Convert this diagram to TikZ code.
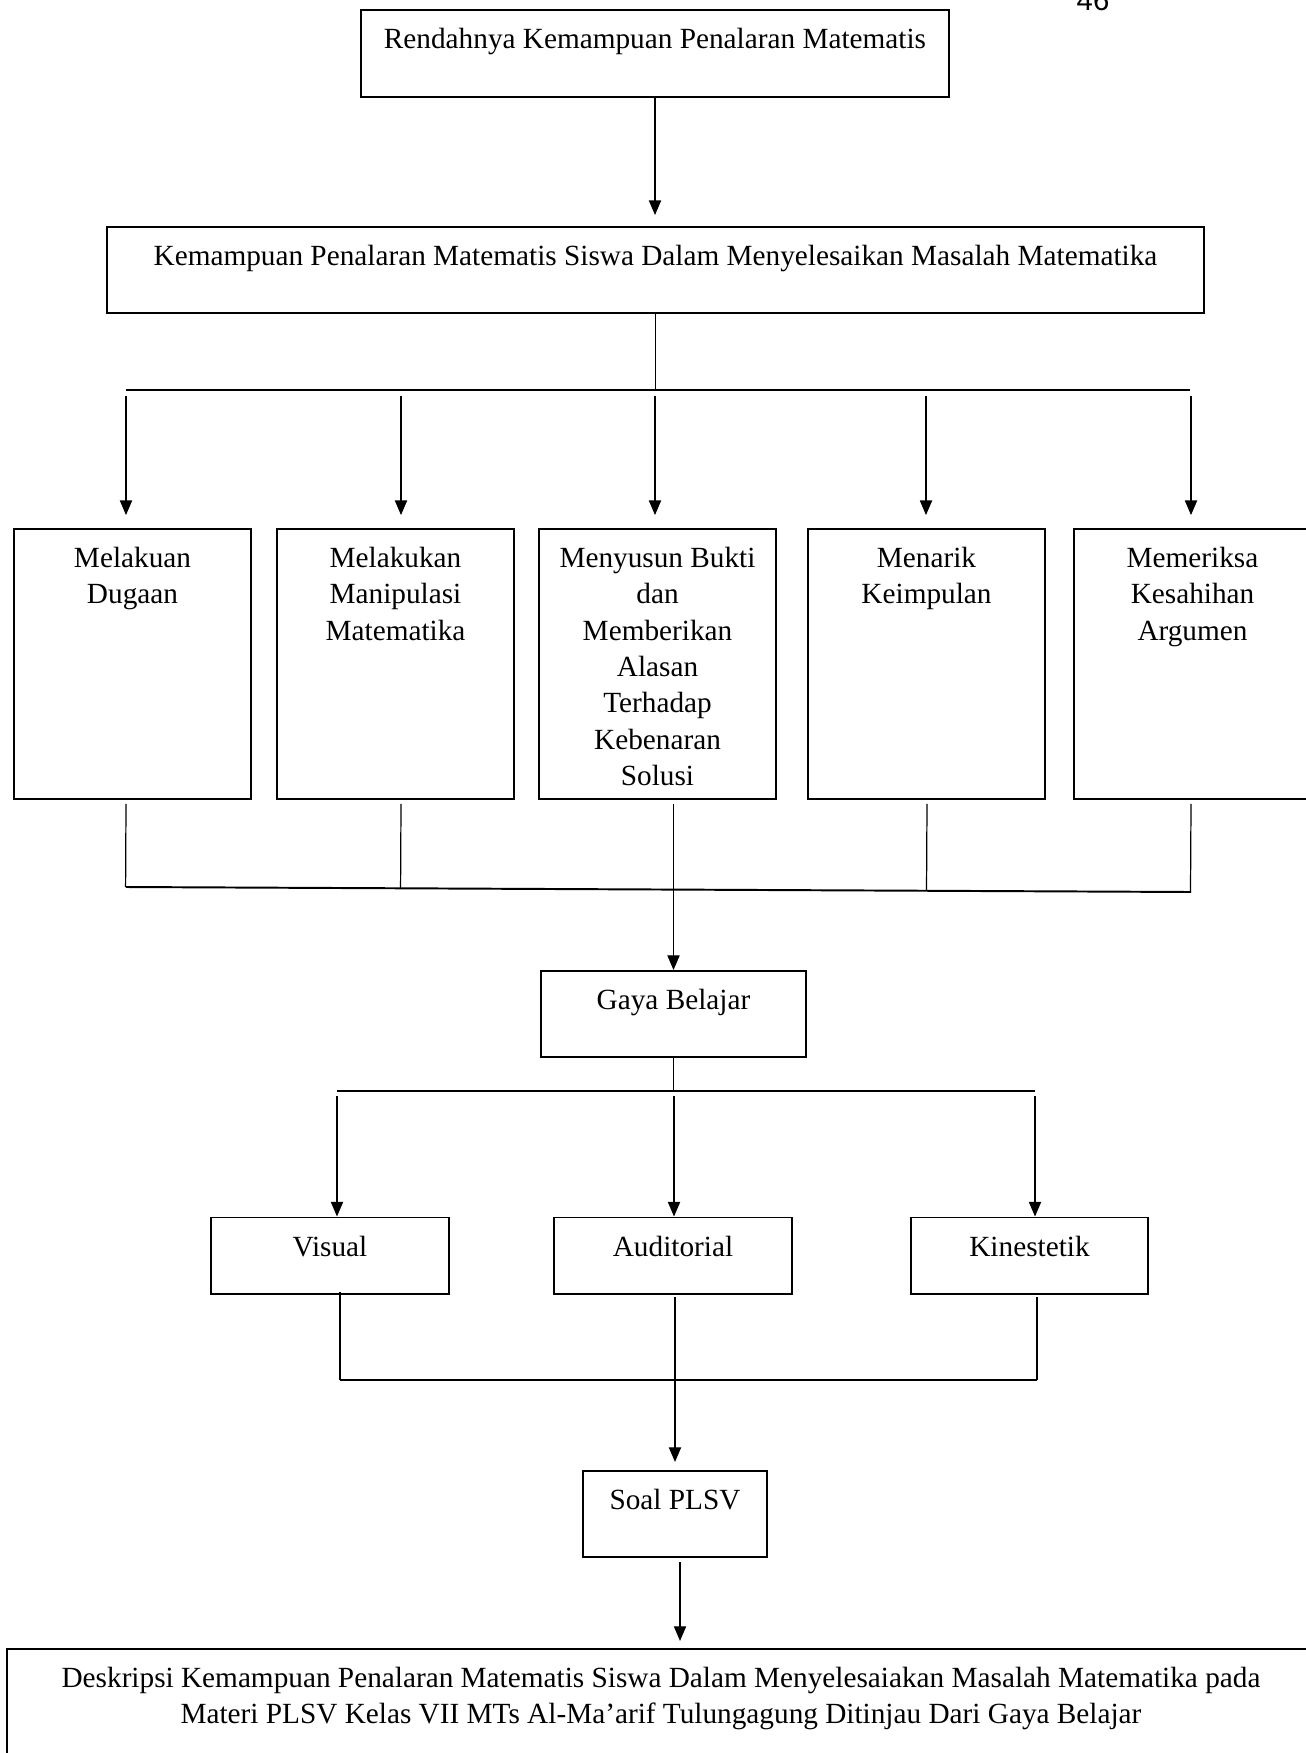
\documentclass[tikz,border=0pt]{standalone}
\usepackage{fontspec}
\setmainfont{Liberation Serif}
\newfontfamily\halfont{Liberation Sans}
\usetikzlibrary{arrows.meta,calc}
\tikzset{
  kotak/.style={draw, line width=0.8pt, anchor=north, align=flush center,
    inner xsep=0pt, inner ysep=4pt, text height=11.8pt,
    font=\fontsize{12}{14.9}\selectfont},
  garis/.style={line width=0.5pt},
  bus/.style={line width=0.8pt},
  panah/.style={garis, -{Triangle[length=6pt,width=5pt]}}
}
\begin{document}
\begin{tikzpicture}[x=0.41pt, y=-0.41pt]
      \useasboundingbox (0,0) rectangle (1305,1753);
      \node[anchor=base, font=\halfont\fontsize{12}{14}\selectfont] (hal) at (1093,11) {46};
      \draw
        (655,9) node[kotak, text width=241.1pt, text depth=15.9pt] (rendah){Rendahnya Kemampuan Penalaran Matematis}
        (655.5,226) node[kotak, text width=449.8pt, text depth=15.5pt] (masalah){Kemampuan Penalaran Matematis Siswa Dalam Menyelesaikan Masalah Matematika}
        (132.5,528) node[kotak, text width=97.2pt, text depth=90.9pt] (dugaan){Melakuan\\Dugaan}
        (395.5,528) node[kotak, text width=97.2pt, text depth=90.9pt] (manipulasi){Melakukan\\Manipulasi\\Matematika}
        (657.5,528) node[kotak, text width=97.2pt, text depth=90.9pt] (bukti){Menyusun Bukti\\dan\\Memberikan\\Alasan\\Terhadap\\Kebenaran\\Solusi}
        (926.5,528) node[kotak, text width=97.2pt, text depth=90.9pt] (simpulan){Menarik\\Keimpulan}
        (1192.5,528) node[kotak, text width=97.2pt, text depth=90.9pt] (argumen){Memeriksa\\Kesahihan\\Argumen}
        (673.5,970) node[kotak, text width=108.7pt, text depth=15.5pt] (gaya){Gaya Belajar}
        (330,1216.5) node[kotak, text width=97.6pt, text depth=11.6pt] (visual){Visual}
        (673,1216.5) node[kotak, text width=97.6pt, text depth=11.6pt] (auditorial){Auditorial}
        (1029.5,1216.5) node[kotak, text width=97.2pt, text depth=11.6pt] (kinestetik){Kinestetik}
        (675,1470) node[kotak, text width=75.4pt, text depth=15.5pt] (soal){Soal PLSV}
        (661,1648) node[kotak, text width=536.3pt, text depth=40pt] (desk){Deskripsi Kemampuan Penalaran Matematis Siswa Dalam Menyelesaiakan Masalah Matematika pada\\Materi PLSV Kelas VII MTs Al-Ma’arif Tulungagung Ditinjau Dari Gaya Belajar};
      \draw[panah, shorten >=4.5pt] (rendah) -- (rendah |- masalah.north);
      \coordinate (busA) at (126,390);
      \coordinate (busB) at (1190,390);
      \draw[bus] (busA) -- (busB);
      \draw[garis] (masalah) -- (masalah |- busA);
      \foreach \n/\x in {dugaan/126, manipulasi/401, bukti/655, simpulan/926, argumen/1191}{
        \coordinate (k\n) at (\x,0);
        \draw[panah, shorten >=5.3pt] (busA -| k\n) ++(0,6) -- (\n.north -| k\n);
      }
      \coordinate (busC) at (126,887);
      \coordinate (busD) at (1191,892);
      \draw[bus] (busC) -- (busD);
      \foreach \n/\x in {dugaan/126, manipulasi/401, simpulan/927, argumen/1191}{
        \coordinate (m\n) at (\x,0);
        \draw[garis] (\n.south -| m\n) ++(0,4) -- ($(busC)!(\n.south -| m\n)!(busD)$);
      }
      \draw[panah] (bukti.south -| gaya.north) ++(0,4) -- (gaya.north);
      \coordinate (busE) at (337,1091);
      \coordinate (busF) at (1035,1091);
      \draw[bus] (busE) -- (busF);
      \draw[garis] (gaya) -- (gaya |- busE);
      \foreach \n/\x in {visual/337, auditorial/674, kinestetik/1035}{
        \coordinate (g\n) at (\x,0);
        \draw[panah] (busE -| g\n) ++(0,5) -- (\n.north -| g\n);
      }
      \coordinate (busG) at (340,1380);
      \coordinate (busH) at (1037,1380);
      \draw[bus] (busG) -- (busH);
      \draw[garis] (visual.south -| busG) ++(0,-3) -- (busG);
      \draw[garis] (kinestetik.south -| busH) ++(0,2) -- (busH);
      \draw[panah, shorten >=3.3pt] (auditorial.south -| soal.north) ++(0,2) -- (soal.north);
      \coordinate (s) at (680,0);
      \draw[panah, shorten >=2.9pt] (soal.south -| s) ++(0,4) -- (desk.north -| s);
    \end{tikzpicture}
\end{document}
